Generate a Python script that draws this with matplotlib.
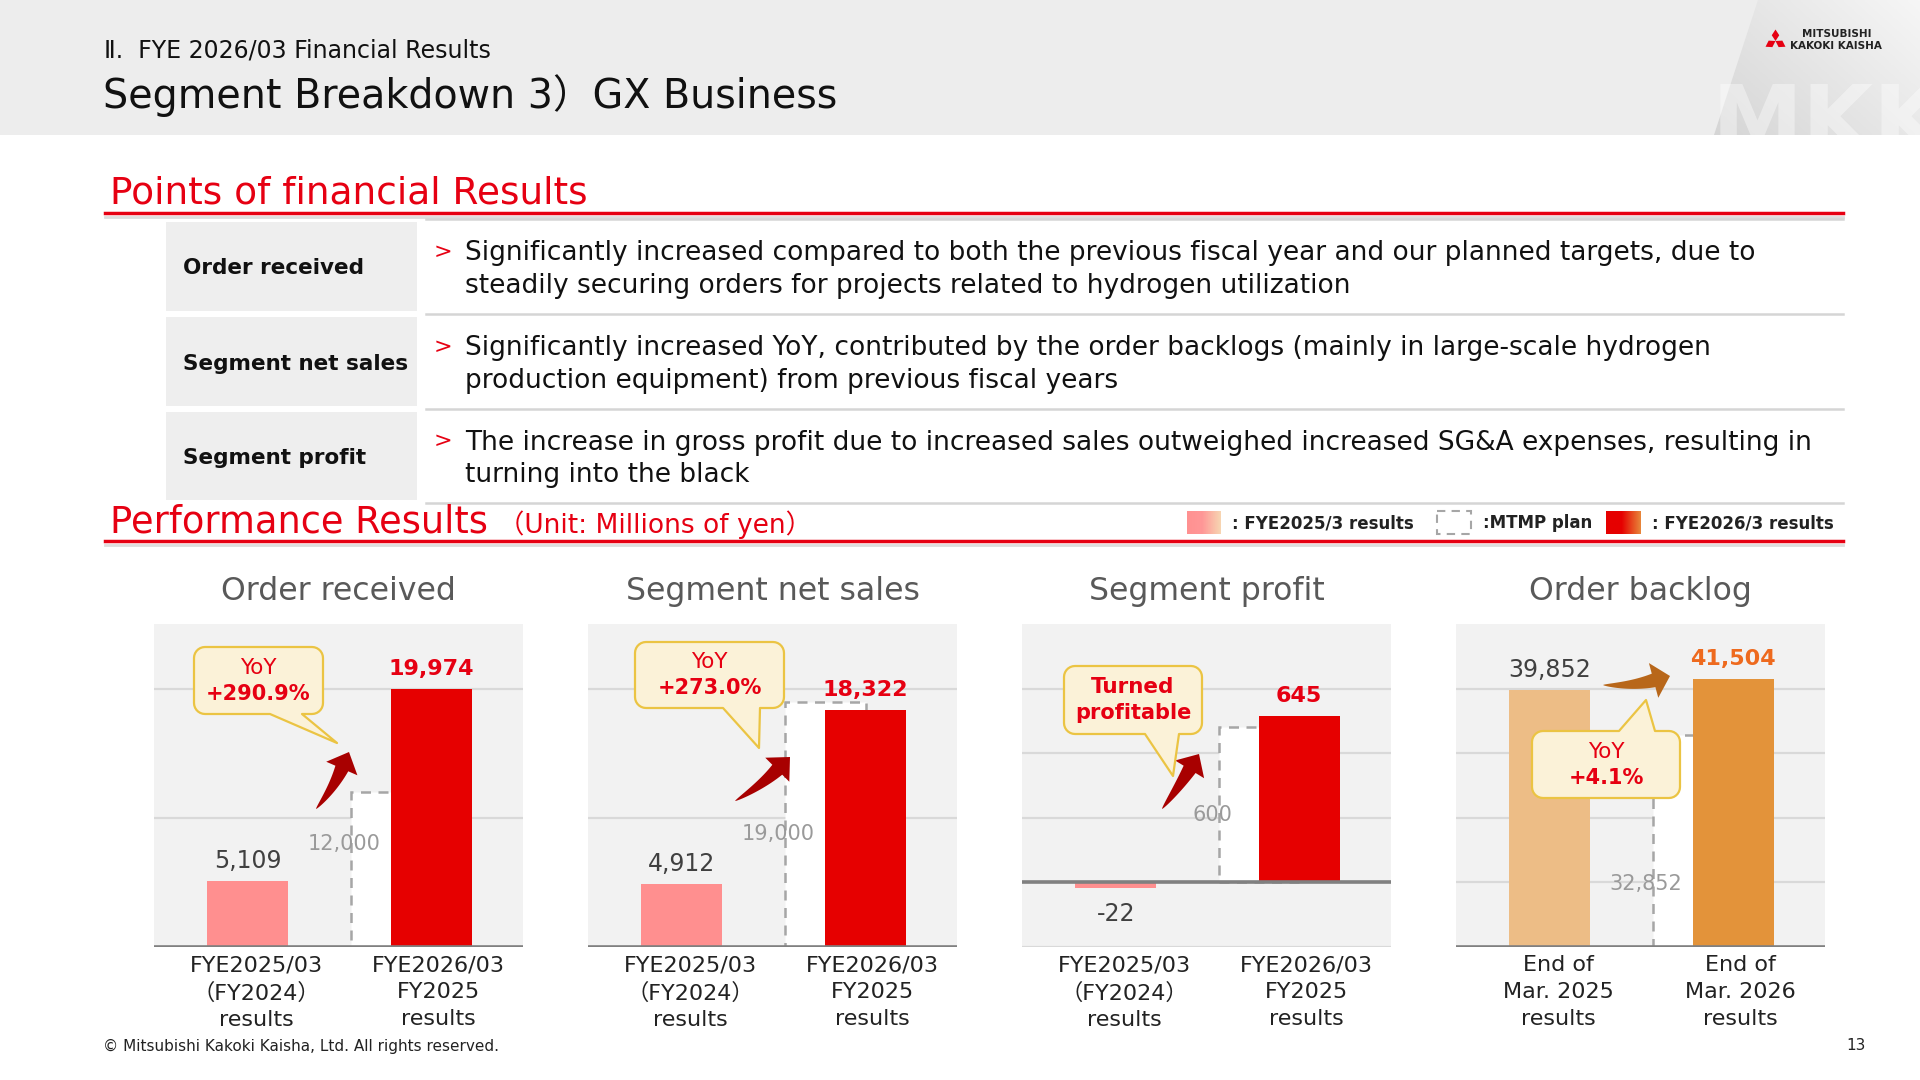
import numpy as np
import matplotlib.pyplot as plt
from matplotlib.patches import Rectangle, Polygon
from matplotlib.colors import LinearSegmentedColormap

plt.rcParams['font.family'] = ['DejaVu Sans', 'Noto Sans CJK JP']

W, H = 1920, 1080

# ---- data ----
chart_titles = ['Order received', 'Segment net sales', 'Segment profit', 'Order backlog']
period_labels = ['FYE2025/03\n（FY2024）\nresults', 'FYE2026/03\nFY2025\nresults']
backlog_labels = ['End of\nMar. 2025\nresults', 'End of\nMar. 2026\nresults']
prev_results = [5109, 4912, -22, 39852]
curr_results = [19974, 18322, 645, 41504]
mtmp_plan = [12000, 19000, 600, 32852]
callout_top = ['YoY', 'YoY', 'Turned', 'YoY']
callout_bottom = ['+290.9%', '+273.0%', 'profitable', '+4.1%']
y_limits = [(0, 25000), (0, 25000), (-250, 1000), (0, 50000)]
grid_step = [10000, 10000, 250, 10000]

point_items = ['Order received', 'Segment net sales', 'Segment profit']
point_texts = [
    'Significantly increased compared to both the previous fiscal year and our planned targets, due to\n'
    'steadily securing orders for projects related to hydrogen utilization',
    'Significantly increased YoY, contributed by the order backlogs (mainly in large-scale hydrogen\n'
    'production equipment) from previous fiscal years',
    'The increase in gross profit due to increased sales outweighed increased SG&A expenses, resulting in\n'
    'turning into the black',
]

RED = '#E60012'
PINK = '#FF8F8F'
BAR_RED = '#E60000'

fig = plt.figure(figsize=(19.2, 10.8), dpi=100)
fig.patch.set_facecolor('white')

# background layer in pixel coords (y down)
bg = fig.add_axes([0, 0, 1, 1], zorder=0)
bg.set_autoscale_on(False)
bg.set_xlim(0, W)
bg.set_ylim(H, 0)
bg.axis('off')

# header band
head_rect = Rectangle((0, 0), W, 135, color='#EDEDED', lw=0, zorder=0)
bg.add_patch(head_rect)
corner = Polygon([(1758, 0), (W, 0), (W, 135), (1714, 135)], closed=True, fc='none', ec='none')
bg.add_patch(corner)
gx, gy = np.meshgrid(np.linspace(0, 1, 200), np.linspace(0, 1, 60))
grad = 0.6 * gx + 0.4 * (1 - gy)
im = bg.imshow(grad, extent=[1700, W, 135, 0], aspect='auto', zorder=1,
               cmap=LinearSegmentedColormap.from_list('hd', ['#D4D4D4', '#F6F6F6']))
im.set_clip_path(corner)
mkk = bg.text(1712, 152, 'MKK', fontsize=66, fontweight='bold', color='white', alpha=0.4,
              va='baseline', ha='left', zorder=2)
mkk.set_clip_path(head_rect)

# mitsubishi mark
cx, cy, L, w = 1775.5, 41, 11.5, 7.5
for ang in (0, 120, 240):
    a = np.radians(ang)
    rot = np.array([[np.cos(a), -np.sin(a)], [np.sin(a), np.cos(a)]])
    pts = np.array([[0, 0], [w / 2, -L / 2], [0, -L], [-w / 2, -L / 2]]) @ rot.T
    bg.add_patch(Polygon(pts + [cx, cy], closed=True, fc=RED, ec='none', zorder=3))
bg.text(1802, 34, 'MITSUBISHI', fontsize=7.5, fontweight='bold', color='#222222',
        va='center', ha='left', zorder=3)
bg.text(1790, 46, 'KAKOKI KAISHA', fontsize=7.5, fontweight='bold', color='#222222',
        va='center', ha='left', zorder=3)

bg.text(104, 51, 'Ⅱ.  FYE 2026/03 Financial Results', fontsize=17, color='#111111', va='center')
bg.text(103, 96, 'Segment Breakdown 3）GX Business', fontsize=28.5, color='#111111', va='center')

# section headings
bg.text(110, 194, 'Points of financial Results', fontsize=27, color=RED, va='center')
bg.plot([105, 1843], [217, 217], color='#DDDDDD', lw=2, zorder=1)
bg.plot([105, 1843], [213, 213], color=RED, lw=2.5, zorder=2)

rows = [(222, 311), (317, 406), (412, 500)]
for (y0, y1), item, txt in zip(rows, point_items, point_texts):
    bg.add_patch(Rectangle((166, y0), 251, y1 - y0, color='#EEEEEE', lw=0))
    yc = (y0 + y1) / 2
    bg.text(183, yc + 2, item, fontsize=15.5, fontweight='bold', color='#111111', va='center')
    bg.text(443, yc - 15, '>', fontsize=16, color=RED, va='center', ha='center')
    bg.text(465, yc + 3, txt, fontsize=19, color='#111111', va='center', linespacing=1.33)
for y in (219, 314, 409, 503):
    bg.plot([426, 1843], [y, y], color='#D5D5D5', lw=1.8)

bg.text(110, 522, 'Performance Results', fontsize=26.5, color=RED, va='center')
bg.text(498, 525, '（Unit: Millions of yen）', fontsize=19, color=RED, va='center')
bg.plot([105, 1843], [545, 545], color='#DDDDDD', lw=2, zorder=1)
bg.plot([105, 1843], [541, 541], color=RED, lw=2.5, zorder=2)

# legend
lx = np.linspace(0, 1, 100)[None, :]
bg.imshow(lx, extent=[1187, 1221, 534, 511], aspect='auto', zorder=3,
          cmap=LinearSegmentedColormap.from_list('lp', [(0, '#FF9191'), (0.45, '#FF9797'), (1, '#F7D6B2')]))
bg.text(1232, 523, ': FYE2025/3 results', fontsize=12, fontweight='bold', color='#222222', va='center')
bg.add_patch(Rectangle((1437, 511), 34, 23, fill=False, ec='#A6A6A6', lw=1.5, ls=(0, (4, 3)), zorder=3))
bg.text(1483, 523, ':MTMP plan', fontsize=12, fontweight='bold', color='#222222', va='center')
bg.imshow(lx, extent=[1606, 1641, 534, 511], aspect='auto', zorder=3,
          cmap=LinearSegmentedColormap.from_list('lr', [(0, '#E60000'), (0.45, '#E60000'), (1, '#E8873A')]))
bg.text(1652, 523, ': FYE2026/3 results', fontsize=12, fontweight='bold', color='#222222', va='center')

bg.text(103, 1046, '© Mitsubishi Kakoki Kaisha, Ltd. All rights reserved.', fontsize=11,
        color='#222222', va='center')
bg.text(1866, 1046, '13', fontsize=11, color='#222222', va='center', ha='right')

# ---- charts ----
lefts = [154, 588, 1022, 1456]
top_px, bot_px, width_px = 624, 947, 369
plan_label_y = [0.32, 0.35, 0.41, 0.195]
plan_off = -0.215
bw = 0.44

for i in range(4):
    ax = fig.add_axes([lefts[i] / W, 1 - bot_px / H, width_px / W, (bot_px - top_px) / H], zorder=2)
    ax.set_facecolor('#F2F2F2')
    backlog = i == 3
    c_prev = '#EDBD86' if backlog else PINK
    c_curr = '#E3933A' if backlog else BAR_RED
    c_lab = '#EE6A1E' if backlog else RED

    ax.bar(0, prev_results[i], width=bw, color=c_prev, zorder=2)
    ax.bar(1 + plan_off, mtmp_plan[i], width=bw, facecolor='white', edgecolor='#A6A6A6',
           lw=1.8, ls=(0, (4, 3)), zorder=2)
    ax.bar(1, curr_results[i], width=bw, color=c_curr, zorder=3)

    lo, hi = y_limits[i]
    ax.set_xlim(-0.51, 1.5)
    ax.set_ylim(lo, hi)
    ax.set_yticks(np.arange(lo, hi, grid_step[i]))
    ax.yaxis.grid(True, color='#D9D9D9', lw=1.6, zorder=0)
    ax.set_axisbelow(True)
    ax.tick_params(axis='y', length=0, labelleft=False)
    ax.axhline(0, color='#808080', lw=2.6, zorder=4)
    for s in ax.spines.values():
        s.set_visible(False)

    ax.tick_params(axis='x', length=0, pad=6, labelsize=16, labelcolor='#222222')
    ax.set_xticks([0.05, 1.04], backlog_labels if backlog else period_labels, linespacing=1.42)

    ax.set_title(chart_titles[i], fontsize=22.7, color='#595959', pad=17)

    off = 20 if prev_results[i] >= 0 else -26
    ax.annotate(f'{prev_results[i]:,}', (0, prev_results[i]), xytext=(0, off),
                textcoords='offset pixels', ha='center', va='center', fontsize=17, color='#404040', zorder=5)
    ax.annotate(f'{curr_results[i]:,}', (1, curr_results[i]), xytext=(0, 20),
                textcoords='offset pixels', ha='center', va='center', fontsize=16,
                fontweight='bold', color=c_lab, zorder=5)
    ax.text(1 + plan_off - bw / 2 - 0.04, plan_label_y[i], f'{mtmp_plan[i]:,}',
            transform=ax.get_xaxis_transform(), ha='center', va='center', fontsize=15,
            color='#9A9A9A', zorder=5)

# ---- overlay: callouts and arrows ----
ov = fig.add_axes([0, 0, 1, 1], zorder=5)
ov.set_autoscale_on(False)
ov.set_xlim(0, W)
ov.set_ylim(H, 0)
ov.axis('off')


def callout(x0, y0, x1, y1, tl, tr, tip, side, r=11):
    pts = []

    def arc(ccx, ccy, a0, a1):
        for a in np.radians(np.linspace(a0, a1, 8)):
            pts.append((ccx + r * np.cos(a), ccy + r * np.sin(a)))

    arc(x0 + r, y0 + r, 180, 270)
    if side == 'top':
        pts.extend([(tl, y0), tip, (tr, y0)])
    arc(x1 - r, y0 + r, 270, 360)
    arc(x1 - r, y1 - r, 0, 90)
    if side == 'bottom':
        pts.extend([(tr, y1), tip, (tl, y1)])
    arc(x0 + r, y1 - r, 90, 180)
    ov.add_patch(Polygon(pts, closed=True, fc='#FBF2D8', ec='#EBC443', lw=1.6,
                         joinstyle='round', zorder=6))


def swoosh(p0, tip, direction, k, body_w, head_w, head_len, color):
    p0, tip, d = np.array(p0, float), np.array(tip, float), np.array(direction, float)
    d /= np.hypot(*d)
    base = tip - d * head_len
    c = tip - d * k
    t = np.linspace(0, 1, 50)[:, None]
    curve = (1 - t) ** 2 * p0 + 2 * (1 - t) * t * c + t ** 2 * base
    tang = 2 * (1 - t) * (c - p0) + 2 * t * (base - c)
    tang /= np.hypot(tang[:, 0], tang[:, 1])[:, None]
    nrm = np.column_stack([-tang[:, 1], tang[:, 0]])
    half = (t[:, 0] ** 0.7 * body_w / 2)[:, None]
    left, right = curve + nrm * half, curve - nrm * half
    n_end = np.array([-d[1], d[0]])
    head = [base + n_end * head_w / 2, tip, base - n_end * head_w / 2]
    ov.add_patch(Polygon(np.vstack([left, head, right[::-1]]), closed=True,
                         fc=color, ec='none', zorder=5))


boxes = [
    (194, 647, 323, 714, 270, 302, (337, 743), 'bottom'),
    (635, 642, 784, 708, 723, 760, (759, 748), 'bottom'),
    (1064, 666, 1202, 734, 1145, 1179, (1173, 776), 'bottom'),
    (1532, 731, 1680, 798, 1619, 1655, (1646, 700), 'top'),
]
for i, (x0, y0, x1, y1, tl, tr, tip, side) in enumerate(boxes):
    callout(x0, y0, x1, y1, tl, tr, tip, side)
    xc, yc = (x0 + x1) / 2, (y0 + y1) / 2
    ov.text(xc, yc - 13, callout_top[i], fontsize=15.5, color=RED, ha='center', va='center',
            fontweight='bold' if i == 2 else 'normal', zorder=7)
    ov.text(xc, yc + 13, callout_bottom[i], fontsize=15, color=RED, ha='center', va='center',
            fontweight='bold', zorder=7)

swoosh((316, 809), (349, 752), (0.4, -0.92), 40, 14, 34, 18, '#A80000')
swoosh((735, 801), (790, 757), (0.7, -0.7), 40, 14, 34, 18, '#A80000')
swoosh((1162, 809), (1199, 754), (0.52, -0.85), 40, 14, 34, 18, '#A80000')
swoosh((1603, 685), (1670, 676), (0.965, -0.26), 40, 14, 36, 17, '#B8671A')

fig.savefig('out.png', dpi=100)
